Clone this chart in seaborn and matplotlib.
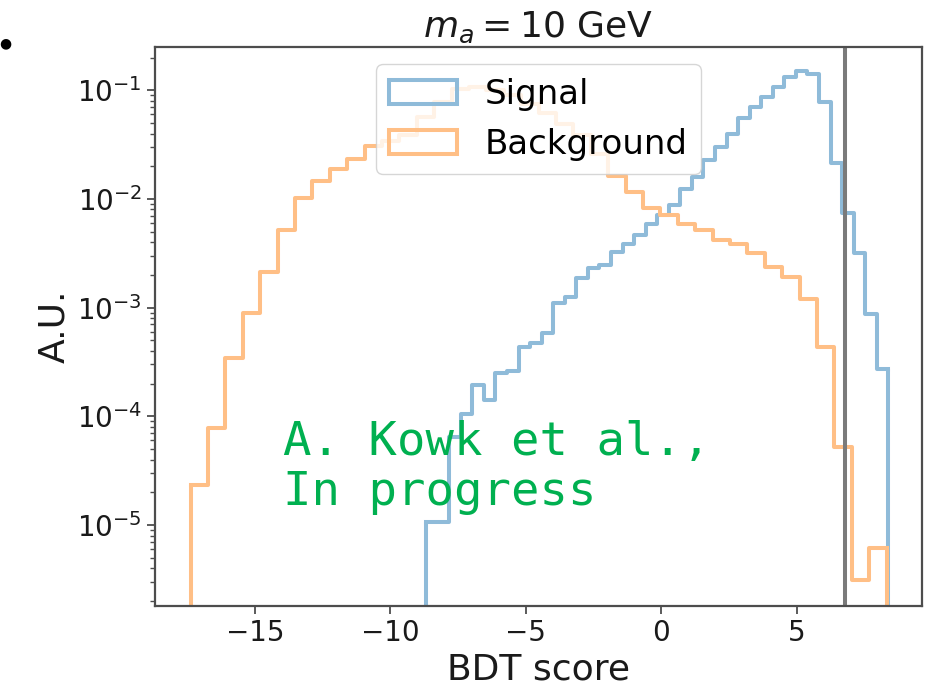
import numpy as np
import matplotlib
matplotlib.use("Agg")
import matplotlib.pyplot as plt
from matplotlib.patches import Patch
import seaborn as sns

# BDT score range covered by each sample's 40 bins
n_bins = 40
sig_range = (-8.68, 8.38)
bkg_range = (-17.37, 8.31)

# fraction of events per bin (each sample normalised to unit sum)
sig_frac = [1.07e-5, 1.07e-5, 6.49e-5, 1.06e-4, 1.94e-4, 1.41e-4, 2.48e-4, 2.61e-4,
            4.37e-4, 4.69e-4, 5.79e-4, 1.11e-3, 1.24e-3, 1.86e-3, 2.31e-3, 2.45e-3,
            3.28e-3, 3.89e-3, 4.68e-3, 5.94e-3, 7.10e-3, 8.77e-3, 1.247e-2, 1.596e-2,
            2.27e-2, 3.01e-2, 4.00e-2, 5.50e-2, 7.03e-2, 8.69e-2, 0.1074, 0.1324,
            0.1507, 0.1422, 0.0782, 0.0212, 7.35e-3, 3.15e-3, 8.83e-4, 2.70e-4]
bkg_frac = [2.32e-5, 7.85e-5, 3.42e-4, 8.87e-4, 2.13e-3, 5.13e-3, 1.02e-2, 1.46e-2,
            1.87e-2, 2.34e-2, 3.10e-2, 3.43e-2, 3.85e-2, 5.69e-2, 7.82e-2, 0.1035,
            0.1074, 0.1000, 0.0899, 0.0753, 0.0617, 0.0494, 0.0385, 0.0257,
            0.0162, 0.0116, 8.17e-3, 7.10e-3, 5.94e-3, 5.16e-3, 4.18e-3, 3.89e-3,
            3.15e-3, 2.37e-3, 1.92e-3, 1.21e-3, 4.37e-4, 5.25e-5, 3.12e-6, 6.11e-6]

bdt_cut = 6.79
labels = ["Signal", "Background"]
colors = ["#8fbbd9", "#ffbf86"]   # tab:blue / tab:orange at half opacity on white

fig = plt.figure(figsize=(9.35, 6.87), dpi=100)
ax = fig.add_axes([0.1658, 0.1179, 0.8203, 0.8137])

lw = 2.9
for rng, frac, color in [(sig_range, sig_frac, colors[0]), (bkg_range, bkg_frac, colors[1])]:
    edges = np.linspace(rng[0], rng[1], n_bins + 1)
    mids = 0.5 * (edges[:-1] + edges[1:])
    sns.histplot(x=mids, weights=frac, bins=list(edges), element="step", fill=False,
                 color=color, linewidth=lw, ax=ax)
    # close the outline down to the axis at both ends
    ax.vlines([edges[0], edges[-1]], 1e-12, [frac[0], frac[-1]], color=color, lw=lw)

ax.axvline(bdt_cut, color="#7a7a7a", lw=2.9)

ax.set_yscale("log")
ax.set_xlim(-18.68, 9.62)
ax.set_ylim(1.8e-6, 0.25)
ax.set_xticks([-15, -10, -5, 0, 5])

for sp in ax.spines.values():
    sp.set_color("#4d4d4d")
    sp.set_linewidth(1.6)
ax.tick_params(which="major", length=6, width=1.3, color="#4d4d4d", labelsize=20,
               labelcolor="#1a1a1a")
ax.tick_params(which="minor", length=3.5, width=1.0, color="#4d4d4d")

ax.set_xlabel("BDT score", fontsize=26, color="#1a1a1a")
ax.set_ylabel("A.U.", fontsize=26, color="#1a1a1a")
ax.set_title(r"$m_a = 10$ GeV", fontsize=26, color="#1a1a1a", pad=7)

handles = [Patch(facecolor="none", edgecolor=c, lw=lw, label=l) for c, l in zip(colors, labels)]
ax.legend(handles=handles, loc="upper center", fontsize=24.5, framealpha=0.8)

fig.text(0.3027, 0.3195, "A. Kowk et al.,\nIn progress", family="DejaVu Sans Mono",
         fontsize=34, color="#00b050", ha="left", va="center", linespacing=1.15)
fig.text(0.006, 0.937, "\u25cf", fontsize=10, color="black", ha="center", va="center")

fig.savefig("out.png", dpi=100)
